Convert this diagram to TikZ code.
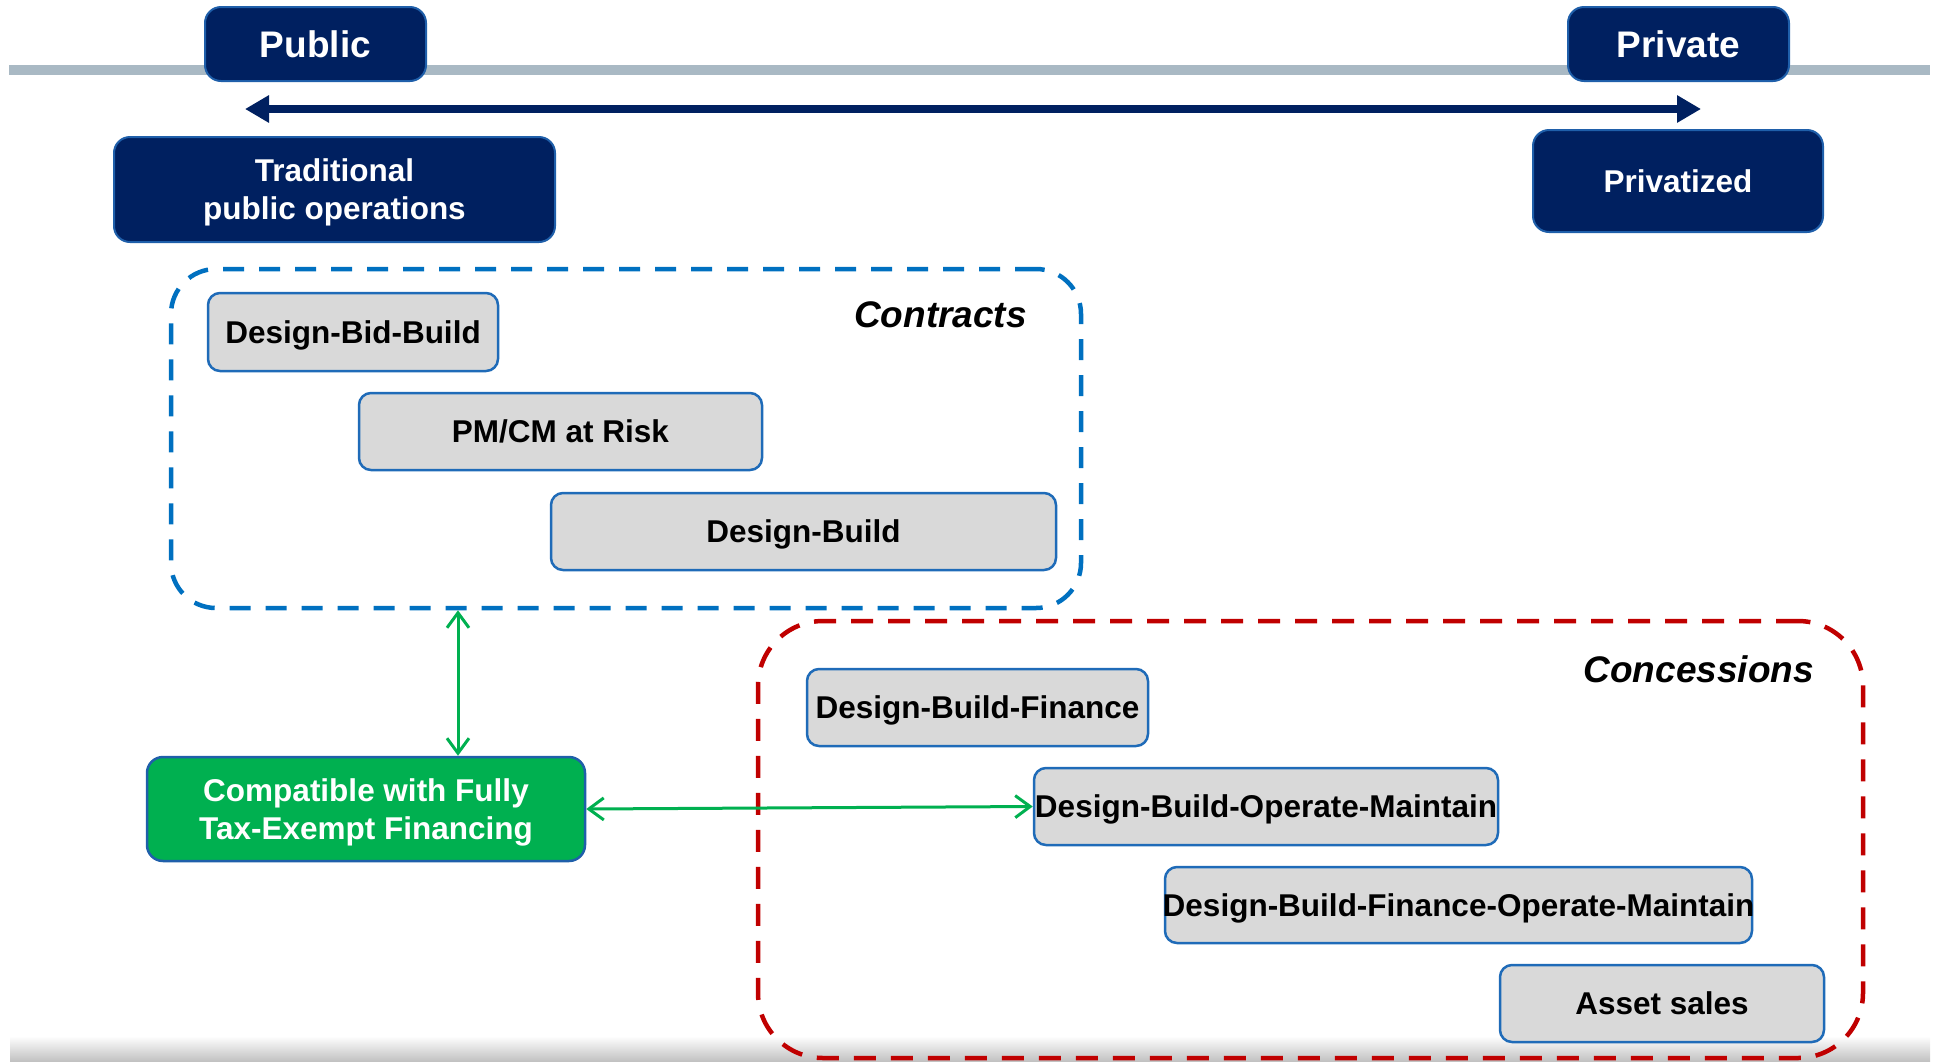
\documentclass[tikz,border=0pt]{standalone}
\usepackage{fontspec}
\setmainfont{Liberation Sans}
\usetikzlibrary{arrows.meta}

\definecolor{navy}{HTML}{002060}
\definecolor{navyedge}{HTML}{1F5FAA}
\definecolor{boxgray}{HTML}{D9D9D9}
\definecolor{boxedge}{HTML}{1F6BB8}
\definecolor{contractblue}{HTML}{0070C0}
\definecolor{concessionred}{HTML}{C00000}
\definecolor{okgreen}{HTML}{00B050}
\definecolor{railgray}{HTML}{A9B9C4}

\begin{document}
\begin{tikzpicture}[x=1pt, y=-1pt,
  font=\bfseries\fontsize{31.5}{38}\selectfont,
  graybox/.style={draw=boxedge, line width=2.5pt, fill=boxgray,
    rounded corners=12pt, inner ysep=0pt, inner xsep=-5pt,
    text height=22.6pt, text depth=0pt, text=black},
  navybox/.style={draw=navyedge, line width=2pt, fill=navy,
    rounded corners=16pt, inner sep=0pt, text=white, align=center},
  greenbox/.style={draw=navyedge, line width=2.5pt, fill=okgreen,
    rounded corners=16pt, inner sep=0pt, text=white, align=center},
  groupbox/.style={line width=4.5pt, rounded corners=#1, inner sep=0pt},
  grouplabel/.style={font=\bfseries\itshape\fontsize{37}{40}\selectfont, inner sep=0pt, anchor=base east},
  garrow/.style={draw=okgreen, line width=3pt,
    {Straight Barb[length=15pt,width=22pt]}-{Straight Barb[length=15pt,width=22pt]}},
  spanarrow/.style={draw=navy, line width=8pt,
    {Triangle[length=24pt,width=26pt]}-{Triangle[length=24pt,width=26pt]}}
]
\useasboundingbox (0,0) rectangle (1939,1061);

% soft shadow along the lower edge
\shade[top color=white, bottom color=black!24] (10,1036) rectangle (1930,1061);

% public / private rail
\coordinate (railL) at (9,70);
\coordinate (railR) at (1930,70);
\draw[railgray, line width=10pt] (railL) -- (railR);

\node[navybox, minimum width=221pt, minimum height=74pt, font=\bfseries\fontsize{37}{40}\selectfont,
  text height=26.5pt, text depth=0pt] (public) at (315.5,44) {Public};
\node[navybox, minimum width=221pt, minimum height=74pt, font=\bfseries\fontsize{37}{40}\selectfont,
  text height=26.5pt, text depth=0pt] (private) at (1678.5,44) {Private};

% spectrum arrow
\coordinate (spanL) at (245,109);
\coordinate (spanR) at (1701,109);
\draw[spanarrow] (spanL) -- (spanR);

\node[navybox, minimum width=441pt, minimum height=105pt, text depth=-5pt] (traditional) at (334.5,189.5)
  {Traditional\\public operations};
\node[navybox, minimum width=290pt, minimum height=102pt, text height=22.6pt, text depth=0pt]
  (privatized) at (1678,181) {Privatized};

% contracts group
\node[groupbox=45pt, draw=contractblue, dash pattern=on 21pt off 15pt,
  minimum width=910pt, minimum height=339pt] (contracts) at (626,438.5) {};
\node[grouplabel] (contractslbl) at (1027,327) {Contracts};
\node[graybox, minimum width=290pt, minimum height=78pt] (dbb) at (353,332) {Design-Bid-Build};
\node[graybox, minimum width=403pt, minimum height=77pt] (pmcm) at (560.5,431.5) {PM/CM at Risk};
\node[graybox, minimum width=505pt, minimum height=77pt] (db) at (803.5,531.5) {Design-Build};

% concessions group
\node[groupbox=65pt, draw=concessionred, dash pattern=on 22pt off 15pt,
  minimum width=1105pt, minimum height=437pt] (concessions) at (1310.5,839.5) {};
\node[grouplabel] (concessionslbl) at (1814,682) {Concessions};
\node[graybox, minimum width=341pt, minimum height=77pt] (dbf) at (977.5,707.5) {Design-Build-Finance};
\node[graybox, minimum width=464pt, minimum height=77pt] (dbom) at (1266,806.5) {Design-Build-Operate-Maintain};
\node[graybox, minimum width=587pt, minimum height=76pt] (dbfom) at (1458.5,905) {Design-Build-Finance-Operate-Maintain};
\node[graybox, minimum width=324pt, minimum height=77pt] (asset) at (1662,1003.5) {Asset sales};

% tax-exempt financing compatibility
\node[greenbox, minimum width=438pt, minimum height=104pt, text depth=-5pt] (taxexempt) at (366,809)
  {Compatible with Fully\\Tax-Exempt Financing};
\coordinate (vlink) at (458,0);
\draw[garrow] (vlink |- contracts.south) -- (vlink |- taxexempt.north);
\draw[garrow] (taxexempt.east) -- (dbom.west);

\end{tikzpicture}
\end{document}
